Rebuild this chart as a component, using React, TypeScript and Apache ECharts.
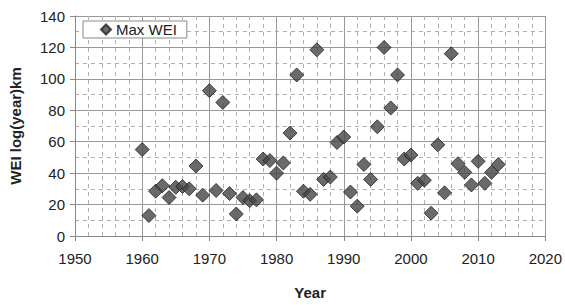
import React, { useEffect, useRef } from "react";
import * as echarts from "echarts";

const years = [
  1960, 1961, 1962, 1963, 1964, 1965, 1966, 1967, 1968, 1969,
  1970, 1971, 1972, 1973, 1974, 1975, 1976, 1977, 1978, 1979,
  1980, 1981, 1982, 1983, 1984, 1985, 1986, 1987, 1988, 1989,
  1990, 1991, 1992, 1993, 1994, 1995, 1996, 1997, 1998, 1999,
  2000, 2001, 2002, 2003, 2004, 2005, 2006, 2007, 2008, 2009,
  2010, 2011, 2012, 2013,
];
const maxWEI = [
  55, 13, 28.5, 32, 24.5, 31, 31.5, 30, 44.5, 26,
  92.5, 29, 85, 27, 14, 24.5, 22.5, 23, 49, 48,
  40, 46.5, 65.5, 102.5, 28.5, 26.5, 118.5, 36, 37.5, 59.5,
  63, 28, 19, 45.5, 36, 69.5, 120, 81.5, 102.5, 49,
  51.5, 33.5, 35.5, 14.5, 58, 27.5, 116, 46, 40.5, 32.5,
  47.5, 33.5, 40.5, 45.5,
];
const seriesName = "Max WEI";
const xAxisTitle = "Year";
const yAxisTitle = "WEI log(year)km";

export default function App() {
  const ref = useRef<HTMLDivElement>(null);
  useEffect(() => {
    if (!ref.current) return;
    const chart = echarts.init(ref.current, null, { renderer: "svg" });
    const font = "'Liberation Sans', Arial, sans-serif";
    chart.setOption({
      animation: false,
      backgroundColor: "#ffffff",
      textStyle: { fontFamily: font },
      grid: { left: 72, right: 18, top: 16, bottom: 62, containLabel: false },
      legend: {
        show: true,
        left: 83,
        top: 21,
        data: [{ name: seriesName, icon: "diamond" }],
        itemWidth: 10,
        itemHeight: 10,
        itemGap: 4,
        padding: [1, 10, 1, 17],
        backgroundColor: "#ffffff",
        borderColor: "#888888",
        borderWidth: 1,
        textStyle: { fontFamily: font, fontSize: 15, color: "#222222" },
      },
      xAxis: {
        type: "value",
        min: 1950,
        max: 2020,
        interval: 10,
        name: xAxisTitle,
        nameLocation: "middle",
        nameGap: 49,
        nameTextStyle: { fontFamily: font, fontSize: 15, fontWeight: "bold", color: "#222222" },
        axisLine: { show: true, lineStyle: { color: "#888888", width: 1 } },
        axisTick: { show: true, length: 5, lineStyle: { color: "#888888" } },
        axisLabel: {
          fontFamily: font,
          fontSize: 15,
          color: "#222222",
          margin: 15,
          formatter: (v: number) => String(v),
        },
        splitLine: { show: true, lineStyle: { color: "#999999", width: 1 } },
        minorTick: { show: false, splitNumber: 5 },
        minorSplitLine: { show: true, lineStyle: { color: "#b0b0b0", width: 1, type: [4, 4] } },
      },
      yAxis: {
        type: "value",
        min: 0,
        max: 140,
        interval: 20,
        name: yAxisTitle,
        nameLocation: "middle",
        nameGap: 52,
        nameRotate: 90,
        nameTextStyle: { fontFamily: font, fontSize: 15, fontWeight: "bold", color: "#222222" },
        axisLine: { show: true, lineStyle: { color: "#888888", width: 1 } },
        axisTick: { show: true, length: 5, lineStyle: { color: "#888888" } },
        axisLabel: { fontFamily: font, fontSize: 15, color: "#222222", margin: 10 },
        splitLine: { show: true, lineStyle: { color: "#999999", width: 1 } },
        minorTick: { show: false, splitNumber: 2 },
        minorSplitLine: { show: true, lineStyle: { color: "#b0b0b0", width: 1, type: [4, 4] } },
      },
      series: [
        {
          name: seriesName,
          type: "scatter",
          symbol: "diamond",
          symbolSize: 14,
          itemStyle: { color: "#454545", borderColor: "#222222", borderWidth: 1 },
          data: years.map((y, i) => [y, maxWEI[i]]),
        },
      ],
    });
    return () => chart.dispose();
  }, []);
  return <div ref={ref} style={{ width: 565, height: 305, position: "absolute", left: 0, top: 0 }} />;
}
